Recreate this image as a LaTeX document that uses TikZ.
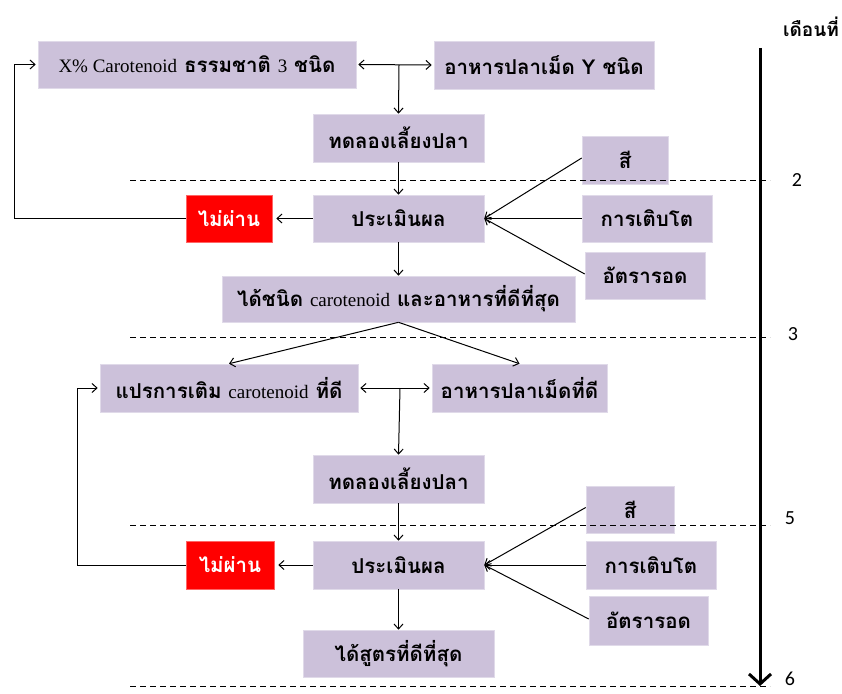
\documentclass[tikz,border=0pt]{standalone}
\usepackage{fontspec}
\setmainfont[Script=Thai]{Loma}
\newfontfamily\lat{Liberation Serif}
\newfontfamily\numfont{Carlito}
\usetikzlibrary{arrows.meta,calc}
\definecolor{boxfill}{HTML}{CCC1DA}
\definecolor{failred}{HTML}{FF0000}
\newcommand{\latin}[1]{{\lat\mdseries\fontsize{19}{20}\selectfont #1}}
\begin{document}
\begin{tikzpicture}[x=1pt,y=-1pt,
  box/.style={fill=boxfill, draw=boxfill!60!white, line width=0.6pt, inner sep=0pt,
    font=\fontsize{20.5}{22}\selectfont\bfseries, text=black},
  failbox/.style={box, fill=failred, draw=failred!60!white, text=white},
  link/.style={line width=1pt, -{Straight Barb[length=5pt,width=9pt]}},
  dlink/.style={line width=1pt, {Straight Barb[length=5pt,width=9pt]}-{Straight Barb[length=5pt,width=9pt]}},
  sep/.style={line width=1pt, dash pattern=on 6pt off 4pt},
  month/.style={font=\numfont\fontsize{20}{22}\selectfont, text=black}
]
\useasboundingbox (0,0) rectangle (842,693);

% ---- first round ----
\node[box, minimum width=318, minimum height=47] (B1) at (197,64.5)
  {\latin{X\% Carotenoid} ธรรมชาติ \latin{3} ชนิด};
\node[box, minimum width=220, minimum height=48] (B2) at (544,65) {อาหารปลาเม็ด Y ชนิด};
\node[box, minimum width=171, minimum height=48] (B3) at (398.5,138) {ทดลองเลี้ยงปลา};
\node[box, minimum width=171, minimum height=47] (B4) at (398.5,218.5) {ประเมินผล};
\node[failbox, minimum width=86, minimum height=47] (F1) at (229,218.5) {ไม่ผ่าน};
\node[box, minimum width=353, minimum height=46] (B5) at (398.5,299)
  {ได้ชนิด \latin{carotenoid} และอาหารที่ดีที่สุด};
\node[box, minimum width=86, minimum height=48] (S1) at (625,160) {สี};
\node[box, minimum width=130, minimum height=47] (G1) at (647,218.5) {การเติบโต};
\node[box, minimum width=120, minimum height=47] (R1) at (645,275.5) {อัตรารอด};

% ---- second round ----
\node[box, minimum width=258, minimum height=48] (B6) at (229,388)
  {แปรการเติม \latin{carotenoid} ที่ดี};
\node[box, minimum width=175, minimum height=48] (B7) at (519.5,388) {อาหารปลาเม็ดที่ดี};
\node[box, minimum width=171, minimum height=48] (B8) at (398.5,479) {ทดลองเลี้ยงปลา};
\node[box, minimum width=171, minimum height=48] (B9) at (398.5,565) {ประเมินผล};
\node[failbox, minimum width=88, minimum height=48] (F2) at (230,565) {ไม่ผ่าน};
\node[box, minimum width=191, minimum height=47] (B10) at (398.5,653.5) {ได้สูตรที่ดีที่สุด};
\node[box, minimum width=88, minimum height=47] (S2) at (630,509.5) {สี};
\node[box, minimum width=130, minimum height=48] (G2) at (651,565) {การเติบโต};
\node[box, minimum width=119, minimum height=49] (R2) at (648.5,620.5) {อัตรารอด};

% ---- time axis ----
\node[font=\fontsize{19}{21}\selectfont\bfseries] (head) at (811,27) {เดือนที่};
\coordinate (t0) at (760,48);
\coordinate (t1) at (760,686);
\draw[line width=3pt, -{Straight Barb[length=10pt,width=22pt,line width=3pt]}] (t0) -- (t1);

\draw[sep] (130,180) -- (770,180);
\draw[sep] (130,337) -- (770,337);
\draw[sep] (130,525) -- (770,525);
\draw[sep] (130,686) -- (770,686);
\node[month] (m2) at (797,180) {2};
\node[month] (m3) at (793,334) {3};
\node[month] (m5) at (790,518) {5};
\node[month] (m6) at (790,679) {6};

% ---- connectors, first round ----
\coordinate (J1) at (399,65);
\draw[dlink, shorten <=2pt, shorten >=2pt] (B1.east) -- (B2.west);
\draw[link] (J1) -- (B3.north);
\draw[link] (B3.south) -- (B4.north);
\draw[link] (B4.west) -- ([xshift=4pt]F1.east);
\draw[link] (B4.south) -- (B5.north);
\draw[link] ([yshift=2pt]S1.west) -- (B4.east);
\draw[link] (G1.west) -- (B4.east);
\draw[link] ([yshift=1.5pt]R1.west) -- (B4.east);
\coordinate (L1) at (14,0);
\draw[link] (F1.west) -- (F1.west -| L1) |- ([xshift=-2pt]B1.west);

\draw[link] (B5.south) -- (B6.north);
\draw[link] (B5.south) -- (B7.north);

% ---- connectors, second round ----
\coordinate (J2) at (400,388);
\draw[dlink, shorten <=2pt, shorten >=2pt] (B6.east) -- (B7.west);
\draw[link] (J2) -- (B8.north);
\draw[link] (B8.south) -- (B9.north);
\draw[link] (B9.west) -- ([xshift=4pt]F2.east);
\draw[link] (B9.south) -- (B10.north);
\draw[link] ([yshift=2pt]S2.west) -- (B9.east);
\draw[link] (G2.west) -- (B9.east);
\draw[link] ([yshift=1.5pt]R2.west) -- (B9.east);
\coordinate (L2) at (77,0);
\draw[link] (F2.west) -- (F2.west -| L2) |- ([xshift=-2pt]B6.west);
\end{tikzpicture}
\end{document}
